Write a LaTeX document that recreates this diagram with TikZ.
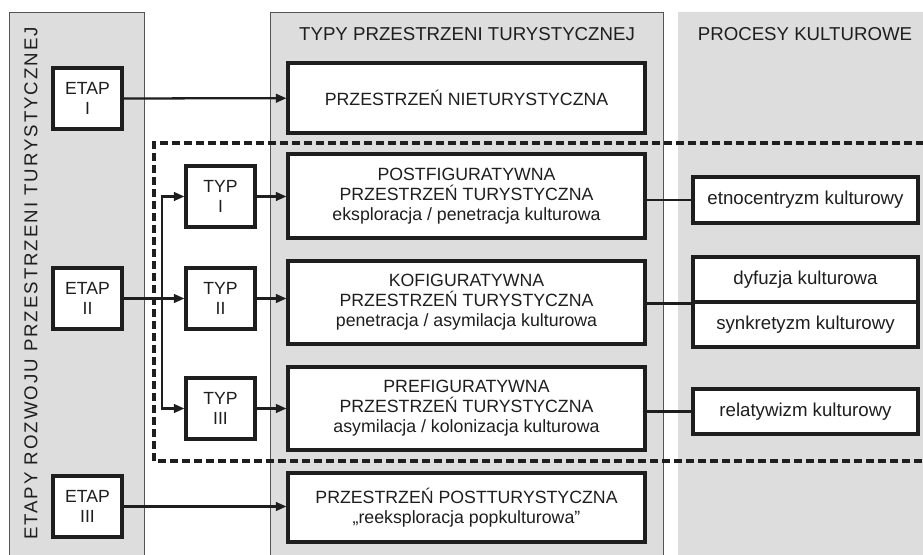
\documentclass[tikz,border=0pt]{standalone}
\usepackage{fontspec}
\setmainfont{Liberation Sans}
\usetikzlibrary{arrows.meta}
\definecolor{panelfill}{RGB}{221,221,221}
\definecolor{panelline}{RGB}{85,85,85}
\definecolor{ink}{RGB}{30,30,30}
\begin{document}
\begin{tikzpicture}[x=0.75pt,y=-0.75pt,
  font=\fontsize{13.3pt}{15pt}\selectfont,
  panel/.style={fill=panelfill,draw=panelline,line width=0.7pt},
  box/.style={draw=ink,fill=white,line width=2.3pt,inner sep=0pt,align=center,text=ink},
  smallbox/.style={box,font=\fontsize{13.2pt}{15pt}\selectfont,
    minimum width=69*0.75pt,minimum height=61*0.75pt},
  spacebox/.style={box,minimum width=357*0.75pt},
  procbox/.style={box,font=\fontsize{14pt}{15pt}\selectfont,minimum width=225*0.75pt},
  heading/.style={text=ink,font=\fontsize{14pt}{16pt}\selectfont},
  link/.style={draw=ink,line width=1.7pt},
  arr/.style={link,-{Triangle[length=8pt,width=6.5pt]}},
  frame/.style={draw=ink,line width=2.4pt,dash pattern=on 6pt off 3pt}]
\useasboundingbox (0,0) rectangle (923,555);

% column panels
\path[panel] (9,556) -- (9,12) -- (144,12) -- (144,556);
\path[panel] (270,556) -- (270,12) -- (663,12) -- (663,556);
\path[panel] (678,556) -- (678,12) -- (924,12);
\fill[panelfill] (678.4,12.4) rectangle (924,556);

% column headings
\node[heading,rotate=90] (hstage) at (31,283.5)
  {\addfontfeature{LetterSpace=10.5}ETAPY ROZWOJU PRZESTRZENI TURYSTYCZNEJ};
\node[heading] (htype) at (467,34) {TYPY PRZESTRZENI TURYSTYCZNEJ};
\node[heading] (hproc) at (805,34) {PROCESY KULTUROWE};

% dashed frame around the second stage
\draw[frame] (924,143) -- (154,143) -- (154,461) -- (924,461);

% stages
\node[smallbox] (e1) at (87.5,98.5) {ETAP\\I};
\node[smallbox] (e2) at (87.5,298.5) {ETAP\\II};
\node[smallbox] (e3) at (87.5,506.5) {ETAP\\III};

% types
\node[smallbox] (t1) at (220.5,196.5) {TYP\\I};
\node[smallbox] (t2) at (220.5,298.5) {TYP\\II};
\node[smallbox] (t3) at (220.5,408.5) {TYP\\III};

% spaces
\node[spacebox,minimum height=70*0.75pt] (s0) at (466.5,98) {PRZESTRZEŃ NIETURYSTYCZNA};
\node[spacebox,minimum height=84*0.75pt] (s1) at (466.5,196)
  {POSTFIGURATYWNA\\PRZESTRZEŃ TURYSTYCZNA\\eksploracja / penetracja kulturowa};
\node[spacebox,minimum height=83*0.75pt] (s2) at (466.5,302.5)
  {KOFIGURATYWNA\\PRZESTRZEŃ TURYSTYCZNA\\penetracja / asymilacja kulturowa};
\node[spacebox,minimum height=83*0.75pt] (s3) at (466.5,408.5)
  {PREFIGURATYWNA\\PRZESTRZEŃ TURYSTYCZNA\\asymilacja / kolonizacja kulturowa};
\node[spacebox,minimum height=69*0.75pt] (s4) at (466.5,507.5)
  {PRZESTRZEŃ POSTTURYSTYCZNA\\„reeksploracja popkulturowa”};

% cultural processes
\node[procbox,minimum height=46*0.75pt] (p1) at (805.5,200) {etnocentryzm kulturowy};
\node[procbox,minimum height=45*0.75pt] (p2) at (805.5,279.5) {dyfuzja kulturowa};
\node[procbox,minimum height=45*0.75pt] (p3) at (805.5,324.5) {synkretyzm kulturowy};
\node[procbox,minimum height=45*0.75pt] (p4) at (805.5,411.5) {relatywizm kulturowy};

% stage arrows
\draw[arr] (e1) -- (s0);
\draw[arr] (e3.east) -- (e3.east -| s4.west);
\draw[arr] (e2) -- (t2);
\coordinate (fork1) at (162,196.5);
\coordinate (fork3) at (162,408.5);
\draw[arr] (fork1 |- e2.east) -- (fork1) -- (t1.west);
\draw[arr] (fork1 |- e2.east) -- (fork3) -- (t3.west);

% type arrows
\draw[arr] (t1) -- (t1.east -| s1.west);
\draw[arr] (t2) -- (t2.east -| s2.west);
\draw[arr] (t3) -- (s3);

% links to processes
\draw[link] (s1.east |- p1.west) -- (p1.west);
\draw[link] (s2.east |- p2.south west) -- (p2.south west);
\draw[link] (s3.east |- p4.west) -- (p4.west);
\end{tikzpicture}
\end{document}
